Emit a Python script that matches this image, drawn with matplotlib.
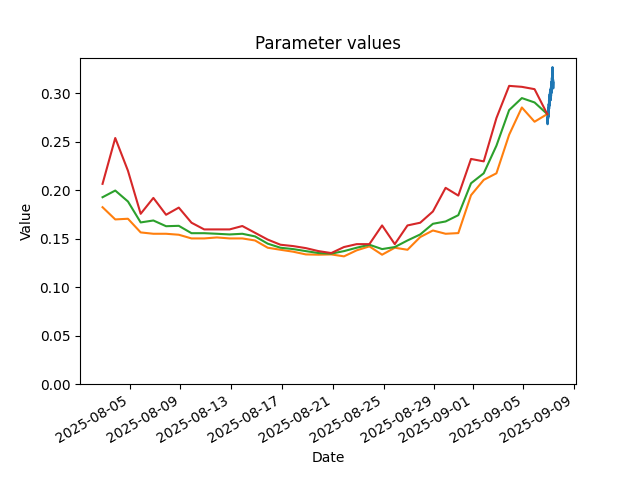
import numpy as np
import pandas as pd
import matplotlib
matplotlib.use("Agg")
import matplotlib.pyplot as plt

# daily series, one point per day
days = pd.date_range("2025-08-02 21:00", periods=36, freq="D")

low = [0.1824, 0.1698, 0.1705, 0.1564, 0.1550, 0.1550, 0.1540, 0.1502, 0.1502,
       0.1512, 0.1502, 0.1502, 0.1481, 0.1406, 0.1385, 0.1365, 0.1337, 0.1334,
       0.1337, 0.1317, 0.1379, 0.1420, 0.1334, 0.1406, 0.1385, 0.1516, 0.1584,
       0.1550, 0.1557, 0.1948, 0.2106, 0.2174, 0.2572, 0.2853, 0.2706, 0.2785]

mid = [0.1927, 0.1996, 0.1883, 0.1667, 0.1687, 0.1628, 0.1632, 0.1556, 0.1556,
       0.1550, 0.1543, 0.1550, 0.1523, 0.1448, 0.1406, 0.1392, 0.1371, 0.1351,
       0.1345, 0.1371, 0.1406, 0.1437, 0.1392, 0.1413, 0.1481, 0.1543, 0.1653,
       0.1677, 0.1742, 0.2071, 0.2174, 0.2459, 0.2826, 0.2950, 0.2905, 0.2785]

high = [0.2065, 0.2538, 0.2200, 0.1756, 0.1920, 0.1746, 0.1820, 0.1664, 0.1595,
        0.1595, 0.1595, 0.1630, 0.1560, 0.1490, 0.1437, 0.1423, 0.1402, 0.1371,
        0.1351, 0.1413, 0.1443, 0.1443, 0.1636, 0.1443, 0.1636, 0.1664, 0.1780,
        0.2024, 0.1944, 0.2322, 0.2297, 0.2744, 0.3076, 0.3066, 0.3042, 0.2785]

# live values at the end
live_t = pd.date_range("2025-09-06 21:00", periods=40, freq="18min")
live = [0.2785, 0.272, 0.268, 0.275, 0.270, 0.281, 0.274, 0.285, 0.276, 0.289,
        0.280, 0.293, 0.284, 0.296, 0.287, 0.299, 0.290, 0.301, 0.292, 0.304,
        0.295, 0.300, 0.293, 0.306, 0.297, 0.310, 0.300, 0.312, 0.303, 0.316,
        0.305, 0.322, 0.310, 0.327, 0.312, 0.318, 0.308, 0.314, 0.305, 0.311]

fig, ax = plt.subplots(figsize=(6.4, 4.8), dpi=100)
ax.plot(live_t, live)
ax.plot(days, low)
ax.plot(days, mid)
ax.plot(days, high)
ax.set_ylim(bottom=0)
ax.set_title("Parameter values")
ax.set_xlabel("Date")
ax.set_ylabel("Value")
fig.autofmt_xdate()
fig.savefig("out.png")
